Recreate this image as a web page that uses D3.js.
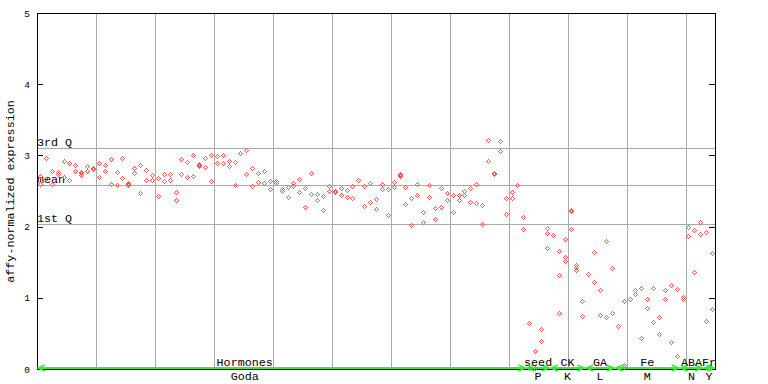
<!DOCTYPE html>
<html><head><meta charset="utf-8">
<script src="https://cdn.jsdelivr.net/npm/d3@7"></script>
<style>body{margin:0;background:#fff}svg{display:block}</style>
</head><body><svg id="c" width="768" height="384"></svg>
<script>
// ---------- data ----------
const categories = ["Hormones", "seed", "CK", "GA", "Fe", "ABA", "Fr"];
const categoryCodes = ["Goda", "P", "K", "L", "M", "N", "Y"];
const categoryFirstSample = [0, 83, 87, 93, 98, 109, 113];
const categoryLastSample = [82, 86, 92, 97, 108, 112, 114];
const yTicks = [0, 1, 2, 3, 4, 5];
const refLabels = ["3rd Q", "mean", "1st Q"];
const refValues = [3.107, 2.587, 2.039];
// expression values per sample slot (replicates)
const expression = [
  [2.71,2.60],[2.96,2.67],[2.78,2.60],[2.76,2.74],[2.92,2.70],[2.89,2.65],[2.87,2.78],[2.76,2.75,2.73],[2.85,2.78],[2.83,2.81],
  [2.90,2.70],[2.87,2.78],[2.95,2.60],[2.77,2.58],[2.96,2.68],[2.61,2.60,2.58],[2.82,2.75],[2.86,2.47],[2.80,2.65],[2.72,2.66],
  [2.68,2.43],[2.74,2.64],[2.74,2.65],[2.48,2.38],[2.95,2.74],[2.91,2.70],[3.01,2.71],[2.88,2.87,2.85],[2.96,2.84],[3.01,2.64],
  [2.99,2.90],[3.01,2.90],[2.92,2.85],[2.91,2.58],[3.04,3.03],[3.08,2.74],[2.82,2.57],[2.75,2.62],[2.78,2.61],[2.64,2.53],
  [2.64,2.61],[2.53,2.50],[2.56,2.41],[2.61,2.57],[2.67,2.49],[2.54,2.27],[2.75,2.46],[2.46,2.37],[2.43,2.23],[2.57,2.50],
  [2.50,2.49],[2.54,2.44],[2.51,2.41],[2.57,2.40],[2.66,2.65],[2.57,2.29],[2.61,2.34],[2.39,2.25],[2.60,2.53],[2.53,2.16],
  [2.63,2.56],[2.74,2.72,2.71],[2.56,2.32],[2.40,2.02],[2.60,2.44],[2.20,2.06],[2.58,2.41],[2.26,2.11],[2.54,2.28],[2.47,2.37],
  [2.44,2.20],[2.44,2.37],[2.50,2.44],[2.54,2.34],[2.60,2.33],[2.30,2.04],[3.22,2.92],[2.75,2.74],[3.20,3.06],[2.40,2.18],
  [2.49,2.40],[2.59,2.58],[2.13,1.96],[0.65,0.02],[0.25,0.02],[0.56,0.39],[1.98,1.91,1.70],[1.88],[1.66,1.32,0.78],[1.82,1.58,1.51],
  [2.24,2.22,1.96],[1.46,1.43,1.39],[0.95,0.74],[1.33],[1.64,1.22],[1.11,0.76],[1.80,0.73],[1.42,0.78],[0.61],[0.95,0.05,0.03],
  [0.99],[1.11,1.05],[1.14,0.43],[0.98,0.85],[1.14,0.66],[0.73,0.49],[1.11,0.99],[1.18,0.38],[1.12,0.18],[1.01,0.98],
  [1.99,1.87],[1.95,1.36],[2.06,1.90],[1.92,0.68],[1.63,0.84]
];

// ---------- drawing ----------
const FONT = "'Liberation Mono', 'DejaVu Sans Mono', monospace";
const svg = d3.select("#c");
const nSlots = expression.length;
const x = d3.scaleLinear().domain([0, nSlots]).range([37, 715]);
const y = d3.scaleLinear().domain([0, 5]).range([369, 13]);
const px = v => Math.round(v) + 0.5;

// vertical grid
svg.append("g").selectAll("line").data(d3.range(10, nSlots, 10)).join("line")
  .attr("x1", d => px(x(d))).attr("x2", d => px(x(d)))
  .attr("y1", y(5)).attr("y2", y(0))
  .attr("stroke", "#aaaaaa").attr("shape-rendering", "crispEdges");

// reference lines
svg.append("g").selectAll("line").data(refValues).join("line")
  .attr("x1", x(0)).attr("x2", x(nSlots))
  .attr("y1", d => px(y(d))).attr("y2", d => px(y(d)))
  .attr("stroke", "#aaaaaa").attr("shape-rendering", "crispEdges");

svg.append("g").selectAll("text").data(refLabels).join("text")
  .attr("x", x(0)).attr("y", (d, i) => Math.round(y(refValues[i])) - 2)
  .attr("font-family", FONT).attr("font-size", "11.7px").attr("fill", "#000")
  .text(d => d);

// frame
svg.append("rect").attr("x", x(0) + 0.5).attr("y", y(5) + 0.5)
  .attr("width", x(nSlots) - x(0)).attr("height", y(0) - y(5))
  .attr("fill", "none").attr("stroke", "#000").attr("shape-rendering", "crispEdges");

// axes
const left = svg.append("g").attr("transform", `translate(${x(0)},0)`)
  .call(d3.axisLeft(y).tickValues(yTicks).tickFormat(d3.format("d"))
    .tickSizeInner(-6).tickSizeOuter(0).tickPadding(7));
left.selectAll("text").attr("font-family", FONT).attr("font-size", "9.5px").attr("fill", "#000");
left.selectAll("line,path").attr("shape-rendering", "crispEdges");
const right = svg.append("g").attr("transform", `translate(${x(nSlots)},0)`)
  .call(d3.axisRight(y).tickValues(yTicks).tickFormat("").tickSizeInner(-6).tickSizeOuter(0));
right.selectAll("line,path").attr("shape-rendering", "crispEdges");

// y label
svg.append("text").attr("transform", `translate(14,${(y(0) + y(5)) / 2 + 0.5}) rotate(-90)`)
  .attr("text-anchor", "middle").attr("font-family", FONT).attr("font-size", "11.7px")
  .attr("fill", "#000").text("affy-normalized expression");

// category arrows and labels
const green = "#33ee33";
const cat = svg.append("g");
categories.forEach((c, i) => {
  const x1 = x(categoryFirstSample[i]) + 1, x2 = x(categoryLastSample[i] + 1) - 1;
  const gy = y(0) - 1;
  cat.append("line").attr("x1", x1).attr("x2", x2).attr("y1", gy).attr("y2", gy)
    .attr("stroke", green).attr("stroke-width", 2);
  cat.append("path").attr("d", `M${x1 + 7},${gy - 3}L${x1},${gy}L${x1 + 7},${gy + 3}`)
    .attr("fill", "none").attr("stroke", green).attr("stroke-width", 1.5);
  cat.append("path").attr("d", `M${x2 - 7},${gy - 3}L${x2},${gy}L${x2 - 7},${gy + 3}`)
    .attr("fill", "none").attr("stroke", green).attr("stroke-width", 1.5);
  const nudge = i === 0 ? -37 : 0;
  const cx = (x(categoryFirstSample[i]) + x(categoryLastSample[i] + 1)) / 2 + nudge;
  cat.append("text").attr("x", cx).attr("y", y(0) - 3).attr("text-anchor", "middle")
    .attr("font-family", FONT).attr("font-size", "11.7px").attr("fill", "#000").text(c);
  cat.append("text").attr("x", cx).attr("y", y(0) + 11).attr("text-anchor", "middle")
    .attr("font-family", FONT).attr("font-size", "11.7px").attr("fill", "#000").text(categoryCodes[i]);
});

// points: checkered diamond markers
const cells = [[0,-2],[-1,-1],[1,-1],[-2,0],[2,0],[-1,1],[1,1],[0,2]];
const pts = [];
expression.forEach((vals, i) => vals.forEach(v => pts.push({i, v})));
svg.append("g").selectAll("path").data(pts).join("path")
  .attr("d", d => {
    const cx = Math.round(x(d.i + 0.5)), cy = Math.round(y(d.v));
    return cells.map(([dx, dy]) => `M${cx + dx},${cy + dy}h1v1h-1z`).join("");
  })
  .attr("fill", "#ff5555").attr("shape-rendering", "crispEdges");
</script></body></html>
